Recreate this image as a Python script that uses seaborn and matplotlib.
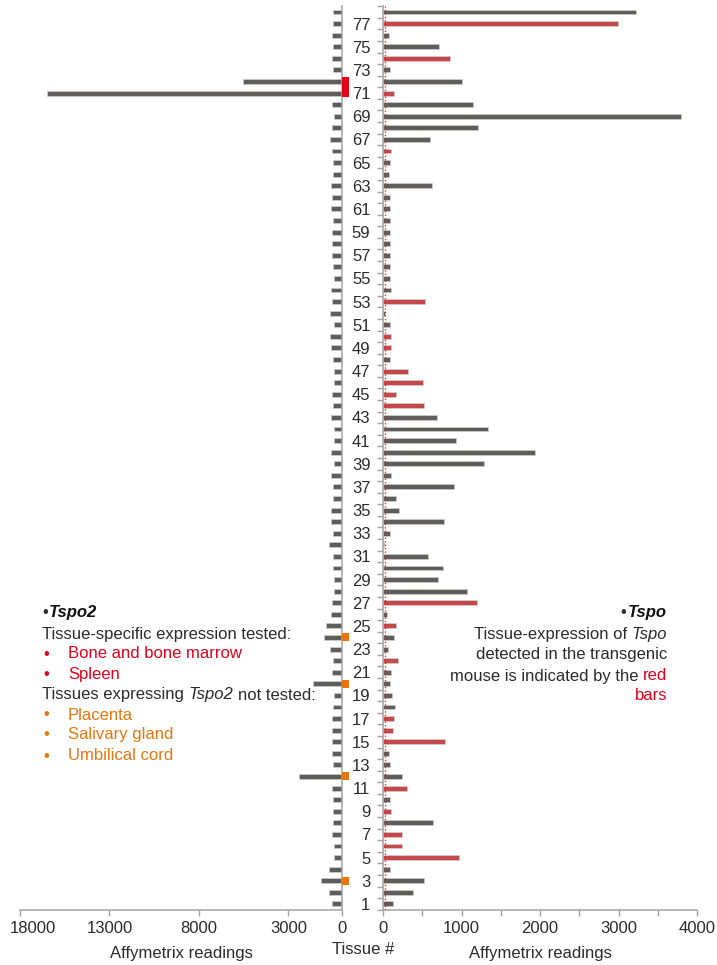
import matplotlib
matplotlib.use("Agg")
import matplotlib.pyplot as plt
from matplotlib.patches import Rectangle
from matplotlib.transforms import IdentityTransform, ScaledTranslation
import numpy as np
import pandas as pd
import seaborn as sns

# ---- data -------------------------------------------------------------
tissue = list(range(1, 79))

# Tspo Affymetrix readings, tissue 1..78
tspo = [127, 382, 527, 85, 964, 242, 242, 633, 98, 85,
        310, 238, 85, 76, 790, 127, 140, 153, 115, 85,
        102, 191, 68, 136, 166, 51, 1202, 1070, 705, 764,
        569, 15, 85, 777, 200, 170, 909, 98, 1282, 1936,
        930, 1338, 688, 522, 161, 510, 323, 85, 98, 98,
        85, 21, 535, 102, 85, 85, 85, 85, 85, 85,
        85, 85, 628, 80, 89, 102, 599, 1206, 3800, 1142,
        140, 1010, 89, 858, 713, 80, 2990, 3219]

# Tspo2 Affymetrix readings, tissue 1..78
tspo2 = [560, 745, 1155, 745, 470, 470, 560, 520, 520, 520,
         560, 2400, 520, 560, 560, 560, 560, 520, 470, 1640,
         560, 520, 650, 990, 900, 615, 560, 430, 470, 520,
         520, 710, 520, 600, 615, 520, 520, 600, 470, 600,
         470, 470, 600, 520, 560, 470, 470, 520, 600, 650,
         470, 650, 560, 600, 470, 520, 560, 560, 560, 520,
         600, 560, 600, 520, 520, 560, 690, 560, 470, 560,
         16490, 5535, 520, 560, 520, 560, 520, 520]

# tissues where Tspo expression was detected in the transgenic mouse
tspo_detected = [5, 6, 7, 9, 11, 15, 16, 17, 22, 25, 27, 44, 45, 46, 47,
                 49, 50, 53, 66, 71, 74, 77]
# Tspo2: tissue-specific expression tested / expressing but not tested
tspo2_tested = [71, 72]
tspo2_not_tested = [3, 12, 20, 24]

tspo_threshold = 30

df = pd.DataFrame({"tissue": tissue, "tspo": tspo, "tspo2": tspo2})
df["group"] = np.where(df["tissue"].isin(tspo_detected), "detected", "other")

# ---- style ------------------------------------------------------------
GRAY = "#5e5d59"
BAR_RED = "#c4474a"
RED = "#e3001b"
ORANGE = "#e8760f"
TEXT = "#2b2b2b"
AXIS = "#a3a3a3"

sns.set_theme(style="white")
plt.rcParams["font.family"] = ["Liberation Sans", "DejaVu Sans"]

W, H = 717, 965
fig = plt.figure(figsize=(W / 100, H / 100), dpi=100)


def px_axes(x0, x1, y_top, y_bot):
    return fig.add_axes([x0 / W, 1 - y_bot / H, (x1 - x0) / W, (y_bot - y_top) / H])


ax_l = px_axes(20, 342, 6.2, 909.7)
ax_r = px_axes(383, 697, 6.2, 909.7)

bar_kw = dict(orient="h", native_scale=True, width=0.42,
              edgecolor="#cfcfcf", linewidth=0.5, saturation=1)

# left: Tspo2 (axis reversed)
sns.barplot(data=df, x="tspo2", y="tissue", color=GRAY, ax=ax_l, **bar_kw)
# right: Tspo
sns.barplot(data=df, x="tspo", y="tissue", hue="group",
            palette={"detected": BAR_RED, "other": GRAY}, dodge=False,
            legend=False, ax=ax_r, **bar_kw)
ax_r.axvline(tspo_threshold, color="#ff1f1f", ls=(0, (1, 1.5)), lw=1.0, zorder=3)

for ax in (ax_l, ax_r):
    ax.set_ylim(0.5, 78.5)
    ax.set_xlabel("Affymetrix readings", fontsize=12, color=TEXT, labelpad=7)
    ax.set_ylabel("")
    for s in ax.spines.values():
        s.set_color(AXIS)
        s.set_linewidth(1.1)
    ax.tick_params(axis="x", direction="out", length=4, width=1, color=AXIS,
                   labelsize=12, labelcolor=TEXT, pad=4, bottom=True)

# left axes
ax_l.set_xlim(18000, 0)
ax_l.set_xticks([18000, 13000, 8000, 3000, 0])
ax_l.set_xticklabels(["18000", "13000", "8000", "3000", "0"])
ax_l.spines["left"].set_visible(False)
ax_l.spines["top"].set_visible(False)
ax_l.set_yticks([])
# keep the outermost label inside the figure
first = ax_l.get_xticklabels()[0]
first.set_transform(first.get_transform() + ScaledTranslation(0.13, 0, fig.dpi_scale_trans))

# right axes
ax_r.set_xlim(0, 4000)
ax_r.set_xticks(np.arange(0, 4001, 500))
ax_r.set_xticklabels([str(v) if v % 1000 == 0 else "" for v in range(0, 4001, 500)])
ax_r.spines["right"].set_visible(False)
ax_r.spines["top"].set_visible(False)
odd = [t for t in tissue if t % 2 == 1]
ax_r.set_yticks(odd)
ax_r.set_yticklabels([str(t) for t in odd])
ax_r.set_yticks(np.arange(0.5, 79, 1), minor=True)
ax_r.tick_params(axis="y", which="major", length=0, pad=9, labelsize=12,
                 labelcolor=TEXT, left=True)
ax_r.tick_params(axis="y", which="minor", length=4, width=1, color=AXIS,
                 direction="out", left=True)

# markers next to the Tspo2 axis
ax_l.add_patch(Rectangle((0, min(tspo2_tested) - 0.37), -370,
                         max(tspo2_tested) - min(tspo2_tested) + 0.74,
                         color=RED, clip_on=False, zorder=5, lw=0))
for t in tspo2_not_tested:
    ax_l.add_patch(Rectangle((0, t - 0.345), -390, 0.69,
                             color=ORANGE, clip_on=False, zorder=5, lw=0))

# ---- annotation text --------------------------------------------------
renderer = fig.canvas.get_renderer()
FS = 12
SPACE = FS * 100 / 72 * 0.278


def put(x, y, s, **kw):
    kw.setdefault("color", TEXT)
    kw.setdefault("fontsize", FS)
    kw.setdefault("ha", "left")
    return fig.text(x, H - y, s, transform=IdentityTransform(), va="center", **kw)


def runs(x, y, parts, ha="left", sep=SPACE):
    arts = [put(0, y, s, **kw) for s, kw in parts]
    widths = [a.get_window_extent(renderer).width for a in arts]
    total = sum(widths) + sep * (len(arts) - 1)
    cur = x if ha == "left" else x - total
    for a, w in zip(arts, widths):
        a.set_position((cur, H - y))
        cur += w + sep


BI = dict(fontweight="bold", fontstyle="italic", color="#111111")
IT = dict(fontstyle="italic")

runs(42, 612, [("•", {}), ("Tspo2", BI)], sep=1.5)
put(42, 634, "Tissue-specific expression tested:")
for y, s in [(654, "Bone and bone marrow"), (674, "Spleen")]:
    put(43, y, "•", color=RED)
    put(68, y, s, color=RED)
runs(42, 695, [("Tissues expressing", {}), ("Tspo2", IT), ("not tested:", {})])
for y, s in [(715, "Placenta"), (735, "Salivary gland"), (756, "Umbilical cord")]:
    put(43, y, "•", color=ORANGE)
    put(68, y, s, color=ORANGE)

RX = 667
runs(RX, 612, [("•", {}), ("Tspo", BI)], ha="right", sep=1.5)
runs(RX, 634, [("Tissue-expression of", {}), ("Tspo", IT)], ha="right")
runs(RX, 655, [("detected in the transgenic", {})], ha="right")
runs(RX, 676, [("mouse is indicated by the", {}), ("red", dict(color=RED))], ha="right")
runs(RX, 696, [("bars", dict(color=RED))], ha="right")

put(363.5, 950, "Tissue #", ha="center")

fig.savefig("out.png", dpi=100, facecolor="white")
